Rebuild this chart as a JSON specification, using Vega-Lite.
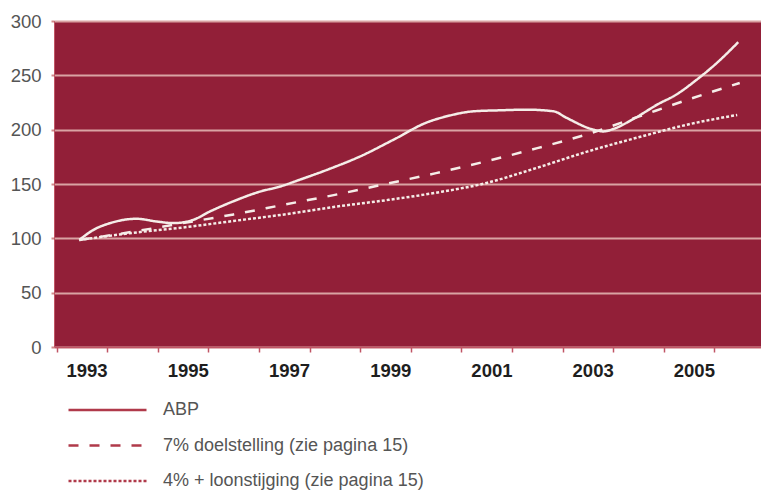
{
  "$schema": "https://vega.github.io/schema/vega-lite/v6.json",
  "width": 707,
  "height": 326,
  "autosize": {"type": "none"},
  "padding": {"left": 54, "top": 21, "right": 0, "bottom": 149},
  "background": "white",
  "config": {"view": {"fill": "#921f38", "stroke": null}, "font": "Liberation Sans"},
  "data": {
    "values": [
      {"series": "ABP", "year": 1992.95, "value": 98.5},
      {"series": "ABP", "year": 1993.23, "value": 107.8},
      {"series": "ABP", "year": 1993.56, "value": 114},
      {"series": "ABP", "year": 1994.08, "value": 118},
      {"series": "ABP", "year": 1994.48, "value": 115.5},
      {"series": "ABP", "year": 1994.81, "value": 114},
      {"series": "ABP", "year": 1995.2, "value": 117},
      {"series": "ABP", "year": 1995.53, "value": 124.7},
      {"series": "ABP", "year": 1995.99, "value": 134},
      {"series": "ABP", "year": 1996.52, "value": 143},
      {"series": "ABP", "year": 1996.92, "value": 147.7},
      {"series": "ABP", "year": 1997.31, "value": 154},
      {"series": "ABP", "year": 1997.9, "value": 164},
      {"series": "ABP", "year": 1998.5, "value": 175.4},
      {"series": "ABP", "year": 1999.16, "value": 190.8},
      {"series": "ABP", "year": 1999.82, "value": 206.7},
      {"series": "ABP", "year": 2000.21, "value": 212.3},
      {"series": "ABP", "year": 2000.74, "value": 216.9},
      {"series": "ABP", "year": 2001.25, "value": 217.8},
      {"series": "ABP", "year": 2001.79, "value": 218.4},
      {"series": "ABP", "year": 2002.32, "value": 216.9},
      {"series": "ABP", "year": 2002.58, "value": 210.8},
      {"series": "ABP", "year": 2003.11, "value": 200},
      {"series": "ABP", "year": 2003.31, "value": 198.4},
      {"series": "ABP", "year": 2003.5, "value": 200.6},
      {"series": "ABP", "year": 2003.9, "value": 209.9},
      {"series": "ABP", "year": 2004.43, "value": 224.6},
      {"series": "ABP", "year": 2004.69, "value": 230.7},
      {"series": "ABP", "year": 2005.15, "value": 246},
      {"series": "ABP", "year": 2005.55, "value": 261.5},
      {"series": "ABP", "year": 2005.97, "value": 280.5},
      {"series": "7% doelstelling (zie pagina 15)", "year": 1992.95, "value": 98.5},
      {"series": "7% doelstelling (zie pagina 15)", "year": 1994, "value": 106},
      {"series": "7% doelstelling (zie pagina 15)", "year": 1995, "value": 114},
      {"series": "7% doelstelling (zie pagina 15)", "year": 1996, "value": 122},
      {"series": "7% doelstelling (zie pagina 15)", "year": 1997, "value": 131},
      {"series": "7% doelstelling (zie pagina 15)", "year": 1998, "value": 140},
      {"series": "7% doelstelling (zie pagina 15)", "year": 1999, "value": 150},
      {"series": "7% doelstelling (zie pagina 15)", "year": 2000, "value": 160},
      {"series": "7% doelstelling (zie pagina 15)", "year": 2001, "value": 171},
      {"series": "7% doelstelling (zie pagina 15)", "year": 2002, "value": 183},
      {"series": "7% doelstelling (zie pagina 15)", "year": 2003, "value": 196},
      {"series": "7% doelstelling (zie pagina 15)", "year": 2004, "value": 212},
      {"series": "7% doelstelling (zie pagina 15)", "year": 2005, "value": 228},
      {"series": "7% doelstelling (zie pagina 15)", "year": 2006, "value": 243},
      {"series": "4% + loonstijging (zie pagina 15)", "year": 1992.95, "value": 98.5},
      {"series": "4% + loonstijging (zie pagina 15)", "year": 1994, "value": 105},
      {"series": "4% + loonstijging (zie pagina 15)", "year": 1995, "value": 110},
      {"series": "4% + loonstijging (zie pagina 15)", "year": 1996, "value": 116},
      {"series": "4% + loonstijging (zie pagina 15)", "year": 1997, "value": 122},
      {"series": "4% + loonstijging (zie pagina 15)", "year": 1998, "value": 129},
      {"series": "4% + loonstijging (zie pagina 15)", "year": 1999, "value": 135},
      {"series": "4% + loonstijging (zie pagina 15)", "year": 2000, "value": 142},
      {"series": "4% + loonstijging (zie pagina 15)", "year": 2001, "value": 151},
      {"series": "4% + loonstijging (zie pagina 15)", "year": 2002, "value": 165},
      {"series": "4% + loonstijging (zie pagina 15)", "year": 2003, "value": 180},
      {"series": "4% + loonstijging (zie pagina 15)", "year": 2004, "value": 193},
      {"series": "4% + loonstijging (zie pagina 15)", "year": 2005, "value": 205},
      {"series": "4% + loonstijging (zie pagina 15)", "year": 2005.95, "value": 213.5}
    ]
  },
  "mark": {"type": "line", "interpolate": "monotone", "strokeWidth": 2.5, "color": "#f5ede8", "strokeCap": "butt"},
  "encoding": {
    "x": {
      "field": "year",
      "type": "quantitative",
      "scale": {"domain": [1992.45, 2006.42], "nice": false, "zero": false},
      "axis": {
        "title": null,
        "values": [1992.5, 1993.5, 1994.5, 1995.5, 1996.5, 1997.5, 1998.5, 1999.5, 2000.5, 2001.5, 2002.5, 2003.5, 2004.5, 2005.5],
        "labelExpr": "floor(datum.value) % 2 == 1 ? '' + floor(datum.value) : ''",
        "grid": false,
        "domainColor": "#c05565",
        "domainWidth": 1.5,
        "tickColor": "#c05565",
        "tickSize": 5,
        "tickWidth": 1.5,
        "labelAlign": "right",
        "labelDx": 3,
        "labelFont": "Liberation Sans",
        "labelFontWeight": "bold",
        "labelFontSize": 18.5,
        "labelColor": "#1e1e1e",
        "labelPadding": 9,
        "labelOverlap": false,
        "labelBound": false,
        "labelFlush": false
      }
    },
    "y": {
      "field": "value",
      "type": "quantitative",
      "scale": {"domain": [0, 300], "nice": false},
      "axis": {
        "title": null,
        "values": [0, 50, 100, 150, 200, 250, 300],
        "grid": true,
        "gridColor": "#d9a3a3",
        "gridWidth": 2,
        "domainColor": "#c05565",
        "domainWidth": 1,
        "tickColor": "#d08a8a",
        "tickSize": 3,
        "tickWidth": 2,
        "labelFont": "Liberation Sans",
        "labelFontSize": 18.5,
        "labelColor": "#555555",
        "labelPadding": 10,
        "labelFlush": false,
        "labelBound": false
      }
    },
    "strokeDash": {
      "field": "series",
      "type": "nominal",
      "scale": {
        "domain": ["ABP", "7% doelstelling (zie pagina 15)", "4% + loonstijging (zie pagina 15)"],
        "range": [[1, 0], [10, 11], [3, 2]]
      },
      "legend": {
        "orient": "none",
        "legendX": 44.5,
        "legendY": 380,
        "title": null,
        "padding": 0,
        "symbolType": "M -6 0 H 6",
        "symbolSize": 169,
        "symbolStrokeWidth": 2.5,
        "symbolStrokeColor": "#b03a4a",
        "labelFont": "Liberation Sans",
        "labelFontSize": 18,
        "labelColor": "#555555",
        "labelOffset": 46.5,
        "labelLimit": 400,
        "rowPadding": 17.5
      }
    }
  }
}
